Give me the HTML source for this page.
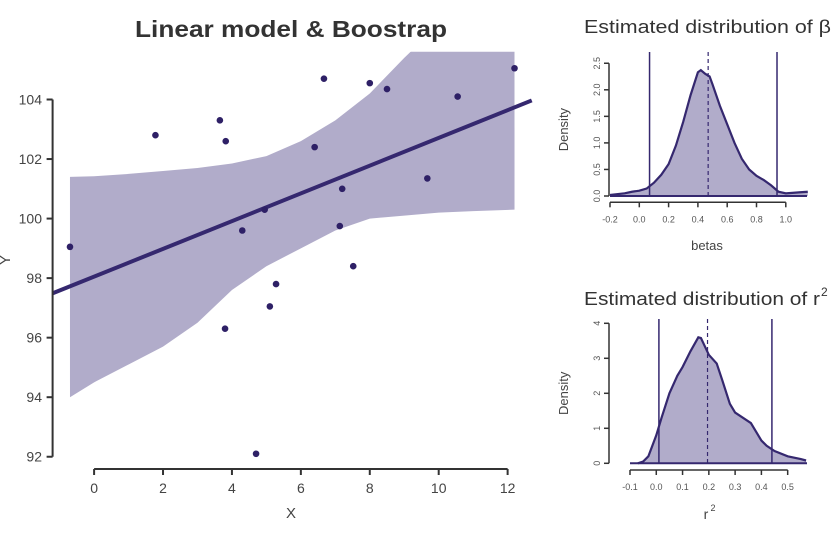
<!DOCTYPE html>
<html><head><meta charset="utf-8"><style>
body{margin:0;background:#fff;}
svg{display:block;font-family:"Liberation Sans",Arial,sans-serif;}
</style></head><body>
<svg id="chart" width="834" height="534" viewBox="0 0 834 534" xmlns="http://www.w3.org/2000/svg">
<text x="135" y="37" font-size="23" font-weight="bold" fill="#333" textLength="312" lengthAdjust="spacingAndGlyphs">Linear model &amp; Boostrap</text>
<text x="584" y="33" font-size="18" fill="#333" textLength="247" lengthAdjust="spacingAndGlyphs">Estimated distribution of β</text>
<text x="584" y="305" font-size="18" fill="#333" textLength="236" lengthAdjust="spacingAndGlyphs">Estimated distribution of r</text>
<text x="821" y="296" font-size="12" fill="#333">2</text>
<defs><clipPath id="mainclip"><rect x="0" y="51.7" width="560" height="420"/></clipPath></defs>
<g id="main"></g><g id="beta"></g><g id="r2"></g>
</svg>
<script>
// ---- main chart data ----
const ptsX=[-0.7,1.78,3.65,3.82,3.8,4.3,4.7,4.95,5.1,5.28,6.4,6.67,7.13,7.2,7.52,8.0,8.5,9.67,10.55,12.2];
const ptsY=[99.05,102.8,103.3,102.6,96.3,99.6,92.1,100.3,97.05,97.8,102.4,104.7,99.75,101.0,98.4,104.55,104.35,101.35,104.1,105.05];
const fitIntercept=98.05, fitSlope=0.466;
const bandX=[-0.7,0,1,2,3,4,5,6,7,8,9,10,11,12.2];
const bandUpper=[101.4,101.42,101.5,101.6,101.7,101.85,102.1,102.6,103.3,104.2,105.4,106.5,107.6,108.8];
const bandLower=[94.0,94.5,95.1,95.7,96.5,97.6,98.4,99.0,99.6,100.0,100.1,100.2,100.25,100.3];
const xTicks=[0,2,4,6,8,10,12];
const yTicks=[92,94,96,98,100,102,104];
// ---- beta density ----
const betaX=[-0.2,-0.1,-0.05,0,0.05,0.1,0.15,0.2,0.25,0.3,0.35,0.4,0.42,0.45,0.48,0.5,0.55,0.6,0.65,0.7,0.75,0.8,0.85,0.9,0.95,1.0,1.1,1.15];
const betaD=[0.02,0.05,0.08,0.1,0.14,0.25,0.4,0.6,0.95,1.4,1.9,2.33,2.37,2.3,2.25,2.1,1.7,1.35,1.0,0.7,0.5,0.38,0.3,0.2,0.08,0.05,0.07,0.08];
const betaCI=[0.07,0.94], betaMean=0.47;
const betaXTicks=[-0.2,0.0,0.2,0.4,0.6,0.8,1.0];
const betaYTicks=[0.0,0.5,1.0,1.5,2.0,2.5];
// ---- r2 density ----
const r2X=[-0.07,-0.05,-0.03,0,0.02,0.05,0.08,0.1,0.13,0.16,0.17,0.2,0.23,0.25,0.28,0.3,0.33,0.36,0.38,0.4,0.42,0.45,0.5,0.55,0.57];
const r2D=[0,0.05,0.2,0.8,1.3,2.0,2.5,2.75,3.2,3.6,3.58,3.1,2.85,2.4,1.7,1.45,1.3,1.15,0.9,0.65,0.5,0.35,0.2,0.12,0.08];
const r2CI=[0.01,0.44], r2Mean=0.195;
const r2XTicks=[-0.1,0.0,0.1,0.2,0.3,0.4,0.5];
const r2YTicks=[0,1,2,3,4];

const NS="http://www.w3.org/2000/svg";
const DARK="#35286f", FILL="#b1acca", AX="#333";
function mk(parent,tag,attrs){const e=document.createElementNS(NS,tag);for(const k in attrs)e.setAttribute(k,attrs[k]);parent.appendChild(e);return e;}
function txt(parent,x,y,s,size,anchor,extra){const t=mk(parent,'text',Object.assign({x:x,y:y,'font-size':size,'text-anchor':anchor||'middle',fill:AX},extra||{}));t.textContent=s;return t;}

// main
(function(){
const g=document.getElementById('main');
const sx=v=>94.1+v*34.46, sy=v=>99.5+(104-v)*29.77;
const cg=mk(g,'g',{'clip-path':'url(#mainclip)'});
let d='M'+bandX.map((x,i)=>sx(x)+','+sy(bandUpper[i])).join('L');
for(let i=bandX.length-1;i>=0;i--)d+='L'+sx(bandX[i])+','+sy(bandLower[i]);
const band=mk(cg,'path',{d:d+'Z',fill:FILL});


const x0=-1.2,x1=12.7;
const fl=mk(g,'line',{x1:sx(x0),y1:sy(fitIntercept+fitSlope*x0),x2:sx(x1),y2:sy(fitIntercept+fitSlope*x1),stroke:DARK,'stroke-width':4});


ptsX.forEach((x,i)=>{const c=mk(g,'circle',{cx:sx(x),cy:sy(ptsY[i]),r:3.3,fill:'#2e2066'});

});
const ya=mk(g,'line',{x1:52.6,y1:sy(104),x2:52.6,y2:sy(92),stroke:AX,'stroke-width':2});


yTicks.forEach(v=>{mk(g,'line',{x1:46.6,x2:52.6,y1:sy(v),y2:sy(v),stroke:AX,'stroke-width':2});
const t=txt(g,42,sy(v)+5,v,14,'end',{fill:'#444'});

});
const xa=mk(g,'line',{x1:sx(0),y1:469,x2:sx(12),y2:469,stroke:AX,'stroke-width':2});


xTicks.forEach(v=>{mk(g,'line',{x1:sx(v),x2:sx(v),y1:469,y2:475,stroke:AX,'stroke-width':2});
const t=txt(g,sx(v),493,v,14,'middle',{fill:'#444'});

});
const xl=txt(g,291,518,'X',15,'middle',{fill:'#444'});


const yl=txt(g,0,0,'Y',15,'middle',{fill:'#444',transform:'translate(10,260) rotate(-90)'});


})();

function density(gid,X,D,ci,mean,xt,yt,o){
const g=document.getElementById(gid);
const sx=v=>o.x0+(v-o.xv0)*o.px, sy=v=>o.y0-v*o.py;
let d='M'+sx(X[0])+','+sy(0)+'L'+X.map((x,i)=>sx(x)+','+sy(D[i])).join('L')+'L'+sx(X[X.length-1])+','+sy(0)+'Z';
const a=mk(g,'path',{d:d,fill:FILL});


const l=mk(g,'path',{d:'M'+X.map((x,i)=>sx(x)+','+sy(D[i])).join('L'),fill:'none',stroke:DARK,'stroke-width':2.2});


mk(g,'line',{x1:o.hx0,x2:807,y1:sy(0),y2:sy(0),stroke:DARK,'stroke-width':2});
ci.forEach(v=>{const c=mk(g,'line',{x1:sx(v),x2:sx(v),y1:o.top,y2:sy(0),stroke:DARK,'stroke-width':1.5});

});
const m=mk(g,'line',{x1:sx(mean),x2:sx(mean),y1:o.top,y2:sy(0),stroke:DARK,'stroke-width':1.2,'stroke-dasharray':'4,3'});


mk(g,'line',{x1:609,x2:609,y1:sy(yt[0]),y2:sy(yt[yt.length-1]),stroke:AX,'stroke-width':1.5});
yt.forEach(v=>{mk(g,'line',{x1:604,x2:609,y1:sy(v),y2:sy(v),stroke:AX,'stroke-width':1.5});
const t=txt(g,0,0,o.yfmt(v),9,'middle',{fill:'#555',transform:'translate(600,'+sy(v)+') rotate(-90)'});

});
mk(g,'line',{x1:sx(xt[0]),x2:sx(xt[xt.length-1]),y1:o.xa,y2:o.xa,stroke:AX,'stroke-width':1.5});
xt.forEach(v=>{mk(g,'line',{x1:sx(v),x2:sx(v),y1:o.xa,y2:o.xa+5,stroke:AX,'stroke-width':1.5});
const t=txt(g,sx(v),o.xa+20,v.toFixed(1),9,'middle',{fill:'#555'});

});
const yl=txt(g,0,0,'Density',13,'middle',{fill:'#444',transform:'translate(568,'+(o.y0-o.py*yt[yt.length-1]/2)+') rotate(-90)'});


return {g:g,sx:sx};
}
(function(){
const r=density('beta',betaX,betaD,betaCI,betaMean,betaXTicks,betaYTicks,{x0:610,xv0:-0.2,px:146.5,y0:196,py:53.1,top:52,hx0:610,xa:202.3,yfmt:v=>v.toFixed(1)});
const t=txt(r.g,707,250,'betas',13,'middle',{fill:'#444'});


const r2=density('r2',r2X,r2D,r2CI,r2Mean,r2XTicks,r2YTicks,{x0:630,xv0:-0.1,px:262.8,y0:463.3,py:35,top:319,hx0:630,xa:470,yfmt:v=>String(v)});
const t2=txt(r2.g,706,519,'r',14,'middle',{fill:'#444'});


const s=txt(r2.g,713,511,'2',9,'middle',{fill:'#444'});


})();
</script>
</body></html>
